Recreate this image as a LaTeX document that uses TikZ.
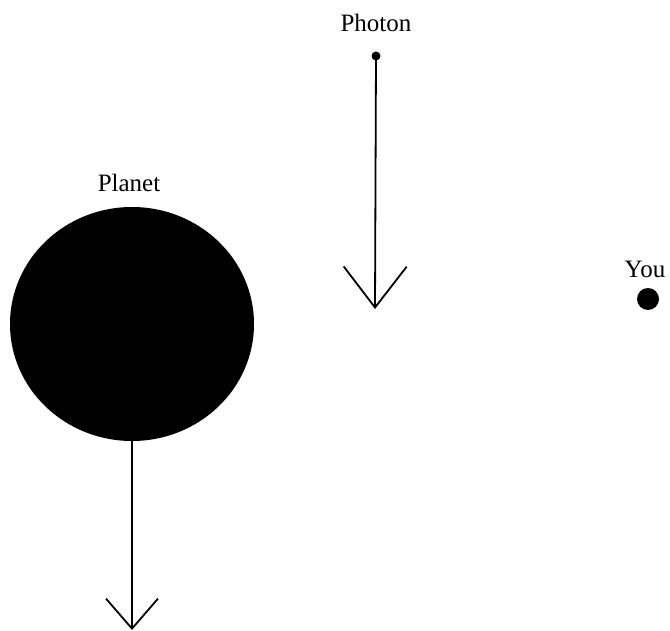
\documentclass[tikz,border=0pt]{standalone}
\usepackage{fontspec}
\setmainfont{Liberation Serif}
\usetikzlibrary{shapes.geometric,arrows.meta}
\begin{document}
\begin{tikzpicture}[x=1pt,y=-1pt,
  lbl/.style={font=\fontsize{25}{27}\selectfont, inner sep=0pt},
  vec/.style={line width=1.8pt},
  dotshape/.style={circle, fill=black, inner sep=0pt}]
\useasboundingbox (0,0) rectangle (670,631);
\fill[white] (0,0) rectangle (670,631);
% Planet
\node[ellipse, fill=black, inner sep=0pt, minimum width=244pt, minimum height=234pt] (planet) at (132,324) {};
\node[lbl] (planetlbl) at (129,183) {Planet};
\coordinate (planettip) at (132,630);
\draw[vec, -{Straight Barb[length=30pt, width=52pt, line width=1.8pt]}] (planet.south) -- (planettip);
% Photon
\node[dotshape, minimum size=9pt] (photon) at (376,56) {};
\node[lbl] (photonlbl) at (376,23) {Photon};
\coordinate (photontip) at (375,309);
\draw[vec, -{Straight Barb[length=41pt, width=63pt, line width=1.8pt]}] (photon.center) -- (photontip);
% You
\node[dotshape, minimum size=22pt] (you) at (648,299) {};
\node[lbl] (youlbl) at (645,269) {You};
\end{tikzpicture}
\end{document}
